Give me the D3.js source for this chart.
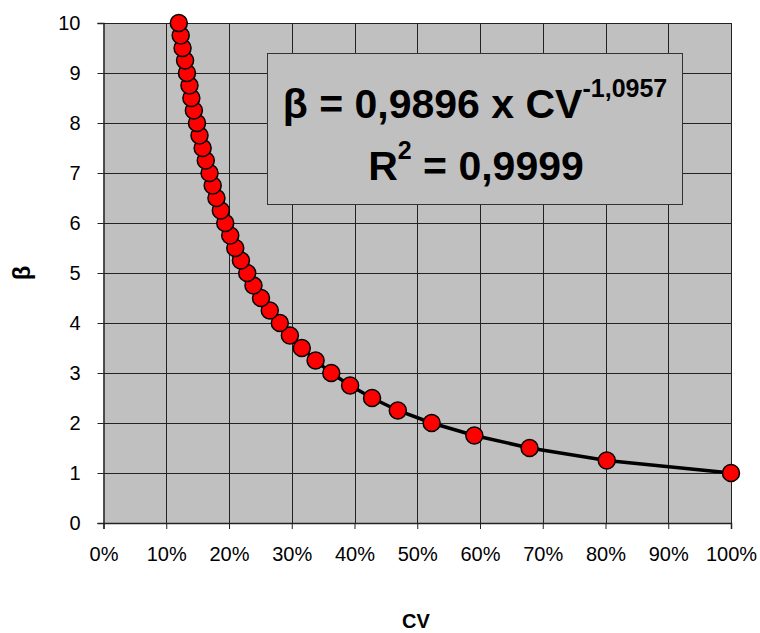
<!DOCTYPE html>
<html>
<head>
<meta charset="utf-8">
<script src="https://cdn.jsdelivr.net/npm/d3@7"></script>
<style>
  body { margin: 0; background: #fff; }
  text { font-family: Arial, "Liberation Sans", sans-serif; }
</style>
</head>
<body>
<div class="chart"></div>
<script>
var width = 760,
    height = 633;

// beta values and the CV read for each of them
var betaValues = [1, 1.25, 1.5, 1.75, 2, 2.25, 2.5, 2.75, 3, 3.25, 3.5, 3.75, 4, 4.25, 4.5, 4.75,
    5, 5.25, 5.5, 5.75, 6, 6.25, 6.5, 6.75, 7, 7.25, 7.5, 7.75, 8, 8.25, 8.5, 8.75,
    9, 9.25, 9.5, 9.75, 10];
var cvValues = [1.000, 0.802, 0.679, 0.591, 0.523, 0.469, 0.428, 0.393, 0.363, 0.338, 0.316, 0.297, 0.281, 0.265, 0.251, 0.239,
    0.229, 0.219, 0.210, 0.202, 0.194, 0.187, 0.180, 0.174, 0.169, 0.163, 0.158, 0.153, 0.149, 0.144, 0.140, 0.137,
    0.133, 0.130, 0.126, 0.123, 0.120];

var xTicks = [0, 0.1, 0.2, 0.3, 0.4, 0.5, 0.6, 0.7, 0.8, 0.9, 1];
var yTicks = [0, 1, 2, 3, 4, 5, 6, 7, 8, 9, 10];

var points = betaValues.map(function(b, i) { return {cv: cvValues[i], beta: b}; });

var plot = {left: 103.5, right: 731, top: 23, bottom: 523};

var svg = d3.select(".chart").append("svg")
    .attr("width", width)
    .attr("height", height);

var x = d3.scaleLinear().domain([0, 1]).range([plot.left, plot.right]);
var y = d3.scaleLinear().domain([0, 10]).range([plot.bottom, plot.top]);

// plot background
svg.append("rect")
    .attr("x", plot.left).attr("y", plot.top)
    .attr("width", plot.right - plot.left)
    .attr("height", plot.bottom - plot.top)
    .attr("fill", "#c0c0c0");

// grid
svg.append("g").selectAll("line")
    .data(yTicks.slice(1))
    .enter().append("line")
    .attr("x1", plot.left).attr("x2", plot.right)
    .attr("y1", function(d) { return Math.round(y(d)) + 0.5; })
    .attr("y2", function(d) { return Math.round(y(d)) + 0.5; })
    .attr("stroke", "#222").attr("stroke-width", 1);

svg.append("g").selectAll("line")
    .data(xTicks.slice(1))
    .enter().append("line")
    .attr("x1", function(d) { return Math.round(x(d)) + 0.5; })
    .attr("x2", function(d) { return Math.round(x(d)) + 0.5; })
    .attr("y1", plot.top).attr("y2", plot.bottom)
    .attr("stroke", "#222").attr("stroke-width", 1);

// axes
var xAxis = svg.append("g")
    .attr("transform", "translate(0," + plot.bottom + ")")
    .call(d3.axisBottom(x).tickValues(xTicks).tickSize(6).tickPadding(18)
        .tickFormat(d3.format(".0%")));
var yAxis = svg.append("g")
    .attr("transform", "translate(" + plot.left + ",0)")
    .call(d3.axisLeft(y).tickValues(yTicks).tickSize(6).tickPadding(17)
        .tickFormat(d3.format("d")));

[xAxis, yAxis].forEach(function(a) {
    a.select(".domain").attr("stroke", "#222").attr("stroke-width", 1.5);
    a.selectAll(".tick line").attr("stroke", "#222");
    a.selectAll(".tick text")
        .attr("fill", "#000")
        .style("font-size", "20px")
        .style("font-family", "Arial, 'Liberation Sans', sans-serif");
});

// line through the points
var line = d3.line()
    .x(function(d) { return x(d.cv); })
    .y(function(d) { return y(d.beta); });

svg.append("path")
    .datum(points)
    .attr("d", line)
    .attr("fill", "none")
    .attr("stroke", "#000")
    .attr("stroke-width", 3.5);

svg.append("g").selectAll("circle")
    .data(points)
    .enter().append("circle")
    .attr("cx", function(d) { return x(d.cv); })
    .attr("cy", function(d) { return y(d.beta); })
    .attr("r", 8.5)
    .attr("fill", "#ff0000")
    .attr("stroke", "#000")
    .attr("stroke-width", 1.5);

// equation box
svg.append("rect")
    .attr("x", 267.5).attr("y", 53.5)
    .attr("width", 415).attr("height", 151)
    .attr("fill", "#c0c0c0")
    .attr("stroke", "#333").attr("stroke-width", 1);

var eq = svg.append("text")
    .attr("x", 475).attr("y", 118)
    .attr("text-anchor", "middle")
    .attr("font-weight", "bold")
    .style("font-size", "41px");
eq.append("tspan").text("β = 0,9896 x CV");
eq.append("tspan").attr("dy", -21).style("font-size", "25px").text("-1,0957");

var r2 = svg.append("text")
    .attr("x", 476).attr("y", 180)
    .attr("text-anchor", "middle")
    .attr("font-weight", "bold")
    .style("font-size", "41px");
r2.append("tspan").text("R");
r2.append("tspan").attr("dy", -21).style("font-size", "25px").text("2");
r2.append("tspan").attr("dy", 21).text(" = 0,9999");

// axis titles
svg.append("text")
    .attr("x", 416).attr("y", 628)
    .attr("text-anchor", "middle")
    .attr("font-weight", "bold")
    .style("font-size", "20px")
    .text("CV");

svg.append("text")
    .attr("transform", "translate(30,273) rotate(-90)")
    .attr("text-anchor", "middle")
    .attr("font-weight", "bold")
    .style("font-size", "24px")
    .text("β");
</script>
</body>
</html>
